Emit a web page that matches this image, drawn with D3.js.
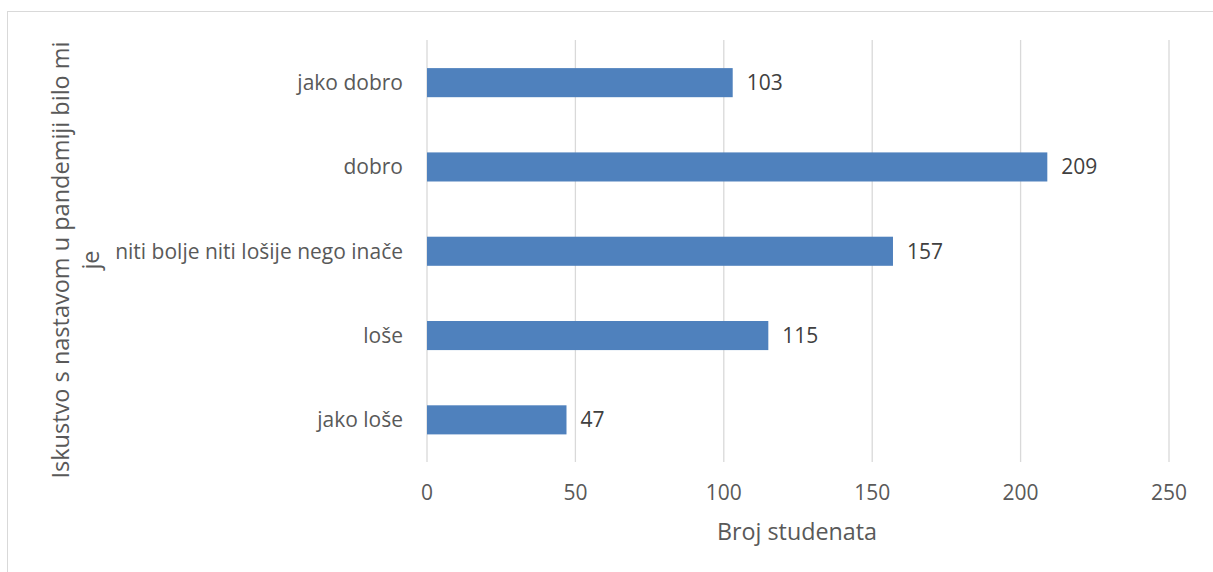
<!DOCTYPE html>
<html><head><meta charset="utf-8">
<script src="https://cdn.jsdelivr.net/npm/d3@7"></script>
<style>body{margin:0;background:#fff}svg{display:block}</style>
</head><body>
<svg id="c" width="1213" height="572"></svg>
<script>
const categories = ["jako dobro", "dobro", "niti bolje niti lošije nego inače", "loše", "jako loše"];
const values = [103, 209, 157, 115, 47];
const xTicks = [0, 50, 100, 150, 200, 250];
const xTitle = "Broj studenata";
const yTitleLines = ["Iskustvo s nastavom u pandemiji bilo mi", "je"];

const svg = d3.select("#c");
const font = "Open Sans, Noto Sans, sans-serif";
const textColor = "#595959";

// chart border
svg.append("rect").attr("x", 7.5).attr("y", 11.5).attr("width", 1220).attr("height", 600)
  .attr("fill", "none").attr("stroke", "#d9d9d9").attr("stroke-width", 1);

const x = d3.scaleLinear().domain([0, 250]).range([427, 1169]);
const y = d3.scaleBand().domain(categories).range([40.5, 462]).paddingInner(0.655).paddingOuter(0.3275);

// gridlines
svg.append("g").selectAll("line").data(xTicks).join("line")
  .attr("x1", d => x(d)).attr("x2", d => x(d)).attr("y1", 40).attr("y2", 462)
  .attr("stroke", "#d9d9d9").attr("stroke-width", 1.3);

// bars
svg.append("g").selectAll("rect").data(values).join("rect")
  .attr("x", x(0)).attr("y", (d, i) => y(categories[i]))
  .attr("width", d => x(d) - x(0)).attr("height", y.bandwidth())
  .attr("fill", "#4f81bd");

// data labels
svg.append("g").selectAll("text").data(values).join("text")
  .attr("x", d => x(d) + 14).attr("y", (d, i) => y(categories[i]) + y.bandwidth() / 2)
  .attr("dy", "0.35em").attr("font-family", font).attr("font-size", 21).attr("fill", "#404040")
  .text(d => d);

// category labels
svg.append("g").selectAll("text").data(categories).join("text")
  .attr("x", 403).attr("y", d => y(d) + y.bandwidth() / 2)
  .attr("dy", "0.35em").attr("text-anchor", "end")
  .attr("font-family", font).attr("font-size", 21).attr("fill", textColor)
  .text(d => d);

// x tick labels
svg.append("g").selectAll("text").data(xTicks).join("text")
  .attr("x", d => x(d)).attr("y", 493).attr("dy", "0.35em").attr("text-anchor", "middle")
  .attr("font-family", font).attr("font-size", 21).attr("fill", textColor)
  .text(d => d);

// x title
svg.append("text").attr("x", 797).attr("y", 532).attr("dy", "0.35em").attr("text-anchor", "middle")
  .attr("font-family", font).attr("font-size", 23.3).attr("fill", textColor).text(xTitle);

// y title
const yt = svg.append("text").attr("transform", "translate(61,260) rotate(-90)")
  .attr("text-anchor", "middle").attr("font-family", font).attr("font-size", 23.5).attr("fill", textColor);
yTitleLines.forEach((l, i) => {
  yt.append("tspan").attr("x", 0).attr("y", i * 30).attr("dy", "0.35em").text(l);
});
</script>
</body></html>
